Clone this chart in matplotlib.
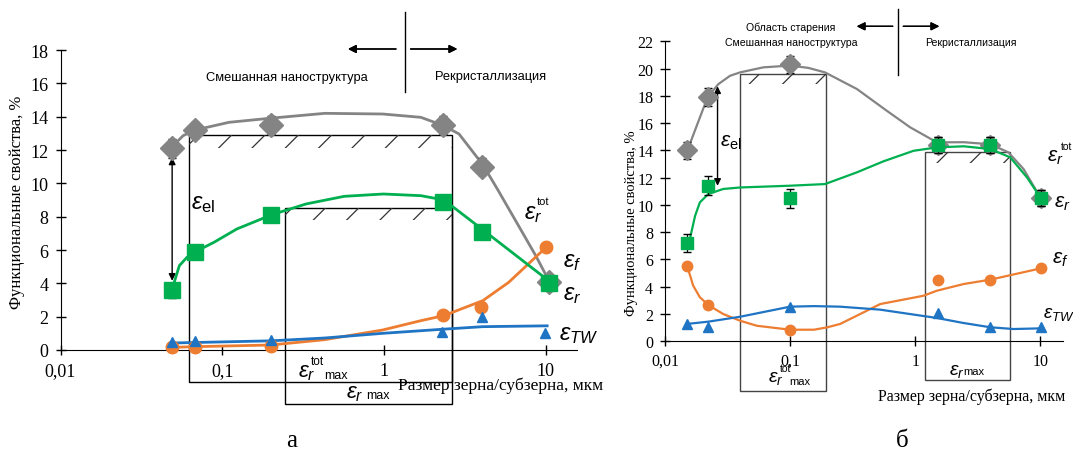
import numpy as np
import matplotlib
matplotlib.use("Agg")
import matplotlib.pyplot as plt
from matplotlib import font_manager
from matplotlib.patches import Rectangle
from matplotlib.lines import Line2D
from matplotlib.ticker import FixedLocator, NullLocator, FixedFormatter

plt.rcParams['mathtext.fontset'] = 'custom'
plt.rcParams['mathtext.rm'] = 'Liberation Sans'
plt.rcParams['mathtext.it'] = 'Liberation Sans:italic'
plt.rcParams['mathtext.bf'] = 'Liberation Sans:bold'
plt.rcParams['hatch.linewidth'] = 0.9

W, H = 1073, 456
GREY = '#848484'
GREEN = '#00b050'
ORANGE = '#ed7d31'
BLUE = '#1f74c4'

# ---------- panel a: measured points ----------
a_x = [0.049, 0.068, 0.2, 2.33, 4.06, 10.5]
a_tot = [12.1, 13.2, 13.5, 13.5, 11.0, 4.1]
a_r = [3.6, 5.9, 8.1, 8.9, 7.1, 4.0]
a_f_x = [0.049, 0.068, 0.2, 2.33, 4.0, 10.0]
a_f = [0.2, 0.2, 0.25, 2.1, 2.6, 6.2]
a_tw_x = [0.049, 0.068, 0.2, 2.28, 4.06, 9.9]
a_tw = [0.5, 0.55, 0.6, 1.1, 2.0, 1.0]
a_tot_err = [0.55, 0.5, 0.55, 0.55, 0.5, 0.4]
a_r_err = [0.45, 0.4, 0.4, 0.3, 0.35, 0.35]

# panel a: trend curves
a_tot_cx = [0.049, 0.0573, 0.068, 0.11, 0.195, 0.431, 0.98, 1.69, 2.34, 2.91, 4.08, 5.02, 6.6, 8.67, 10.2]
a_tot_cy = [12.2, 12.86, 13.2, 13.66, 13.9, 14.2, 14.16, 13.96, 13.46, 12.96, 11.12, 9.66, 7.66, 5.66, 4.36]
a_r_cx = [0.049, 0.0543, 0.0605, 0.069, 0.0888, 0.123, 0.203, 0.329, 0.567, 0.99, 1.69, 2.35, 4.2, 10.6]
a_r_cy = [3.66, 5.06, 5.56, 5.92, 6.46, 7.26, 8.12, 8.76, 9.22, 9.36, 9.26, 9.0, 7.12, 4.1]
a_f_cx = [0.049, 0.068, 0.2, 0.43, 0.98, 1.69, 2.34, 4.08, 5.9, 10.2]
a_f_cy = [0.16, 0.2, 0.3, 0.62, 1.2, 1.76, 2.06, 2.96, 4.06, 6.22]
a_tw_cx = [0.049, 0.2, 0.43, 0.98, 2.34, 4.08, 10.2]
a_tw_cy = [0.42, 0.55, 0.72, 1.0, 1.25, 1.4, 1.45]

# ---------- panel б: measured points ----------
b_x = [0.0151, 0.0219, 0.1, 1.51, 3.98, 10.1]
b_tot = [14.0, 17.9, 20.3, 14.4, 14.4, 10.5]
b_r = [7.2, 11.4, 10.5, 14.4, 14.4, 10.5]
b_f = [5.5, 2.65, 0.8, 4.5, 4.5, 5.35]
b_tw = [1.3, 1.05, 2.5, 2.1, 1.05, 1.05]
b_tot_err = [0.6, 0.65, 0.65, 0.6, 0.6, 0.6]
b_r_err = [0.65, 0.7, 0.7, 0.6, 0.6, 0.6]

b_tot_cx = [0.0151, 0.0219, 0.0267, 0.0331, 0.0398, 0.0611, 0.1, 0.14, 0.19, 0.342, 0.594, 0.912,
            1.49, 2.44, 3.98, 5.55, 7.35, 10.0]
b_tot_cy = [14.0, 17.9, 18.86, 19.47, 19.72, 20.09, 20.22, 20.05, 19.72, 18.5, 16.9, 15.69,
            14.59, 14.6, 14.45, 13.86, 12.63, 10.55]
b_r_cx = [0.0151, 0.0158, 0.0174, 0.019, 0.0222, 0.0292, 0.0398, 0.1, 0.19, 0.342, 0.558, 0.969,
          1.49, 2.44, 3.98, 5.75, 7.82, 10.1]
b_r_cy = [7.2, 7.5, 9.2, 10.19, 10.8, 11.17, 11.28, 11.41, 11.53, 12.39, 13.2, 13.97,
          14.22, 14.3, 14.1, 13.49, 12.02, 10.5]
b_f_cx = [0.0151, 0.0168, 0.019, 0.0222, 0.0292, 0.0398, 0.0542, 0.1, 0.155, 0.197, 0.251, 0.525,
          1.165, 1.49, 2.44, 3.98, 10.1]
b_f_cy = [5.47, 4.08, 3.23, 2.66, 2.0, 1.51, 1.14, 0.85, 0.85, 1.02, 1.27, 2.73,
          3.34, 3.71, 4.2, 4.52, 5.35]
b_tw_cx = [0.0149, 0.0222, 0.0398, 0.1, 0.155, 0.251, 0.525, 1.49, 2.44, 3.98, 6.1, 10.1]
b_tw_cy = [1.27, 1.44, 1.8, 2.54, 2.58, 2.54, 2.32, 1.71, 1.34, 1.03, 0.9, 0.95]

x_ticks = [0.01, 0.1, 1, 10]
x_tick_labels = ['0,01', '0,1', '1', '10']

serif = 'Liberation Serif'
sans = 'Liberation Sans'
installed = {f.name for f in font_manager.fontManager.ttflist}
if 'Liberation Sans Narrow' in installed:
    narrow, nscale = 'Liberation Sans Narrow', 1.0
else:
    narrow, nscale = sans, 0.84


def fig_xy(px, py):
    return px / W, 1 - py / H


def setup_axis(ax, xmax, ymax, fs):
    ax.set_xscale('log')
    ax.set_xlim(0.01, xmax)
    ax.set_ylim(0, ymax)
    ax.spines['top'].set_visible(False)
    ax.spines['right'].set_visible(False)
    ax.xaxis.set_major_locator(FixedLocator(x_ticks))
    ax.xaxis.set_major_formatter(FixedFormatter(x_tick_labels))
    ax.xaxis.set_minor_locator(NullLocator())
    ax.set_yticks(np.arange(0, ymax + 1, 2))
    ax.tick_params(direction='inout', length=7, width=1, labelsize=fs, pad=5)
    for lab in ax.get_xticklabels() + ax.get_yticklabels():
        lab.set_fontfamily(serif)
    ax.patch.set_alpha(0)


def draw_series(ax, ms, lw, cx, cy, mx, my, color, marker, err=None, z=3):
    ax.plot(cx, cy, color=color, lw=lw, zorder=z, solid_joinstyle='round')
    if err is not None:
        ax.errorbar(mx, my, yerr=err, fmt='none', ecolor='black', elinewidth=0.9, capsize=3, zorder=z + 0.5)
    ax.plot(mx, my, linestyle='none', marker=marker, color=color, ms=ms, zorder=z + 1, clip_on=False)


def eps(ax, x, y, sub, fs, sup=None, sup_off=(9, 6.5), sup_fs=8, tail=None, tail_off=(15, -2), tail_fs=9):
    # epsilon with subscript, plus a small raised "tot" and a trailing "max" like in the source figure
    ax.text(x, y, r'$\varepsilon_{%s}$' % sub, fontsize=fs, ha='left', va='center', clip_on=False)
    if sup:
        ax.annotate(sup, (x, y), xytext=sup_off, textcoords='offset points', fontsize=sup_fs,
                    ha='left', va='center', family=sans, annotation_clip=False)
    if tail:
        ax.annotate(tail, (x, y), xytext=tail_off, textcoords='offset points', fontsize=tail_fs,
                    ha='left', va='center', family=sans, annotation_clip=False)


fig = plt.figure(figsize=(W / 100, H / 100), dpi=100)

# ================= panel a =================
ax1 = fig.add_axes([60.5 / W, 1 - 351 / H, (577 - 60.5) / W, 300 / H])
setup_axis(ax1, 15.6, 18, 13)

draw_series(ax1, 12, 2, a_tot_cx, a_tot_cy, a_x, a_tot, GREY, 'D', a_tot_err, z=3)
draw_series(ax1, 11, 2, a_r_cx, a_r_cy, a_x, a_r, GREEN, 's', a_r_err, z=5)
draw_series(ax1, 9, 2, a_f_cx, a_f_cy, a_f_x, a_f, ORANGE, 'o', None, z=4)
draw_series(ax1, 7.5, 2, a_tw_cx, a_tw_cy, a_tw_x, a_tw, BLUE, '^', None, z=4)

# boxes with hatched top strips
ax1.add_patch(Rectangle((0.062, -1.94), 2.63 - 0.062, 12.9 + 1.94, fill=False, ec='black', lw=1, clip_on=False, zorder=2))
ax1.add_patch(Rectangle((0.244, -3.24), 2.63 - 0.244, 8.5 + 3.24, fill=False, ec='black', lw=1, clip_on=False, zorder=2))
ax1.add_patch(Rectangle((0.062, 12.1), 2.63 - 0.062, 0.8, fill=False, lw=0, ec='#333333', hatch='/', zorder=2))
ax1.add_patch(Rectangle((0.244, 7.8), 2.63 - 0.244, 0.7, fill=False, lw=0, ec='#333333', hatch='/', zorder=2))

ax1.annotate('', xy=(0.049, 11.55), xytext=(0.049, 4.15),
             arrowprops=dict(arrowstyle='<|-|>', color='black', lw=1, mutation_scale=10, shrinkA=0, shrinkB=0))
eps(ax1, 0.0637, 8.86, r'\mathrm{el}', 17)
eps(ax1, 7.3, 8.3, 'r', 17, sup='tot', sup_off=(9.5, 8), sup_fs=8)
eps(ax1, 12.7, 5.4, 'f', 17)
eps(ax1, 12.7, 3.4, 'r', 17)
eps(ax1, 12.0, 1.0, 'TW', 17)
eps(ax1, 0.294, -1.3, 'r', 16, sup='tot', sup_off=(9.5, 8), sup_fs=8.5, tail='max', tail_off=(19, -2.4), tail_fs=9)
eps(ax1, 0.58, -2.6, 'r', 16, tail='max', tail_off=(15, -1.5), tail_fs=9)

# ================= panel б =================
ax2 = fig.add_axes([665 / W, 1 - 342.3 / H, (1062.7 - 665) / W, 300 / H])
setup_axis(ax2, 15.1, 22, 11.5)

draw_series(ax2, 10, 1.6, b_tot_cx, b_tot_cy, b_x, b_tot, GREY, 'D', b_tot_err, z=3)
draw_series(ax2, 9, 1.6, b_r_cx, b_r_cy, b_x, b_r, GREEN, 's', b_r_err, z=5)
draw_series(ax2, 7.5, 1.6, b_f_cx, b_f_cy, b_x, b_f, ORANGE, 'o', None, z=4)
draw_series(ax2, 6.5, 1.6, b_tw_cx, b_tw_cy, b_x, b_tw, BLUE, '^', None, z=4)

ax2.add_patch(Rectangle((0.0398, -3.62), 0.192 - 0.0398, 19.6 + 3.62, fill=False, ec='#444444', lw=1, clip_on=False, zorder=2))
ax2.add_patch(Rectangle((1.19, -2.84), 5.75 - 1.19, 13.86 + 2.84, fill=False, ec='#444444', lw=1, clip_on=False, zorder=2))
ax2.add_patch(Rectangle((0.0398, 18.85), 0.192 - 0.0398, 0.75, fill=False, lw=0, ec='#333333', hatch='/', zorder=2))
ax2.add_patch(Rectangle((1.19, 13.1), 5.75 - 1.19, 0.76, fill=False, lw=0, ec='#333333', hatch='/', zorder=2))

ax2.annotate('', xy=(0.0263, 18.7), xytext=(0.0263, 11.4),
             arrowprops=dict(arrowstyle='<|-|>', color='black', lw=1, mutation_scale=10, shrinkA=0, shrinkB=0))
eps(ax2, 0.0275, 14.7, r'\mathrm{el}', 15)
eps(ax2, 11.4, 13.6, 'r', 15, sup='tot', sup_off=(10, 7), sup_fs=7.5)
eps(ax2, 12.8, 10.2, 'r', 15)
eps(ax2, 12.4, 6.1, 'f', 15)
eps(ax2, 10.5, 2.1, 'TW', 13.5)
eps(ax2, 0.067, -2.6, 'r', 14, sup='tot', sup_off=(8, 6.5), sup_fs=7.5, tail='max', tail_off=(15, -2.9), tail_fs=8)
eps(ax2, 1.85, -2.05, 'r', 14, tail='max', tail_off=(10.6, -1), tail_fs=8)

# ================= figure-level text and arrows =================
fig.text(*fig_xy(17, 202), 'Функциональные свойства, %', rotation=90, ha='center', va='center', family=serif, fontsize=12)
fig.text(*fig_xy(631.7, 223), 'Функциональные свойства, %', rotation=90, ha='center', va='center', family=serif, fontsize=10.5)
fig.text(*fig_xy(398, 386), 'Размер зерна/субзерна, мкм', ha='left', va='center', family=serif, fontsize=12.5)
fig.text(*fig_xy(972, 397), 'Размер зерна/субзерна, мкм', ha='center', va='center', family=serif, fontsize=11.5)
fig.text(*fig_xy(292, 441), 'а', ha='center', va='center', family=serif, fontsize=18)
fig.text(*fig_xy(902, 441), 'б', ha='center', va='center', family=serif, fontsize=18)

fig.text(*fig_xy(287, 78), 'Смешанная наноструктура', ha='center', va='center', family=narrow, fontsize=11 * nscale)
fig.text(*fig_xy(491, 77), 'Рекристаллизация', ha='center', va='center', family=narrow, fontsize=11 * nscale)
fig.text(*fig_xy(791, 28), 'Область старения', ha='center', va='center', family=narrow, fontsize=9 * nscale)
fig.text(*fig_xy(791, 43.5), 'Смешанная наноструктура', ha='center', va='center', family=narrow, fontsize=9 * nscale)
fig.text(*fig_xy(971, 43.5), 'Рекристаллизация', ha='center', va='center', family=narrow, fontsize=9 * nscale)

for vx, vy0, vy1 in [(405, 13, 93), (898.3, 10, 76)]:
    x0, y0 = fig_xy(vx, vy0)
    x1, y1 = fig_xy(vx, vy1)
    fig.add_artist(Line2D([x0, x1], [y0, y1], color='black', lw=1))

for (sx, ex, yy) in [(396, 348, 50), (410.6, 457.3, 50), (892.7, 856.7, 27.3), (903.3, 939.3, 27.3)]:
    fig.add_artist(plt.annotate('', xy=fig_xy(ex, yy), xytext=fig_xy(sx, yy), xycoords='figure fraction',
                                arrowprops=dict(arrowstyle='-|>', color='black', lw=1, mutation_scale=12,
                                                shrinkA=0, shrinkB=0)))

fig.savefig('out.png', dpi=100)
